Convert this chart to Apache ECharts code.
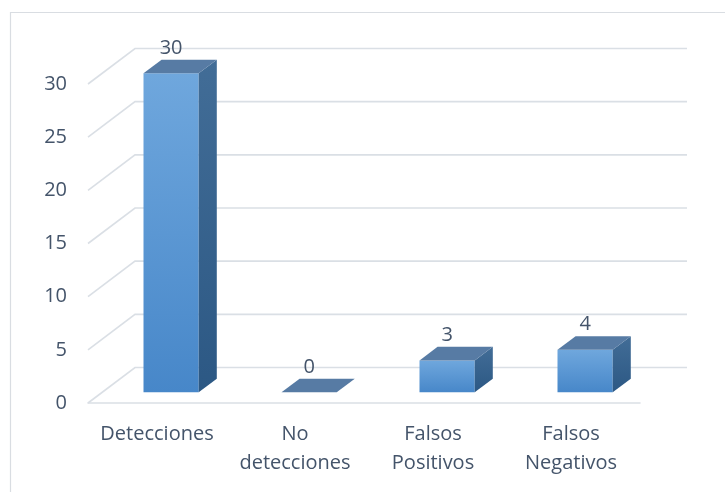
<!DOCTYPE html>
<html>
<head>
<meta charset="utf-8">
<script src="https://cdn.jsdelivr.net/npm/echarts@6/dist/echarts.min.js"></script>
<style>
  html, body { margin: 0; padding: 0; background: #ffffff; }
  #chart { width: 725px; height: 492px; }
</style>
</head>
<body>
<div id="chart"></div>
<script>
// Categories and counts shown by the column chart
const categories = ['Detecciones', 'No\ndetecciones', 'Falsos\nPositivos', 'Falsos\nNegativos'];
const counts = [30, 0, 3, 4];
// Value-axis ticks (also used for the back-wall grid lines)
const yTicks = [0, 5, 10, 15, 20, 25, 30];

const TEXT = '#44546A';
const GRID = '#DADFE5';
const FONT = '"Open Sans", sans-serif';
const FONT_SIZE = 20;

// Pseudo-3D depth of the floor (pixels to the back wall)
const DEPTH_X = 47, DEPTH_Y = -35.5;
// Bars sit between these fractions of the floor depth
const BAR_FRONT = 0.3, BAR_DEPTH = 0.385;
const BAR_WIDTH_RATIO = 0.4;

const chart = echarts.init(document.getElementById('chart'));

function renderWall(params, api) {
  const cs = params.coordSys;
  const y = api.coord([0, api.value(1)])[1];
  return {
    type: 'polyline',
    shape: { points: [
      [cs.x, y],
      [cs.x + DEPTH_X, y + DEPTH_Y],
      [cs.x + cs.width + DEPTH_X, y + DEPTH_Y]
    ] },
    style: { stroke: GRID, lineWidth: 1.6, fill: null },
    silent: true
  };
}

function renderBar(params, api) {
  const idx = api.value(0);
  const val = api.value(1);
  const top = api.coord([idx, val]);
  const base = api.coord([idx, 0]);
  const band = api.size([1, 0])[0];
  const w = band * BAR_WIDTH_RATIO;
  const ox = BAR_FRONT * DEPTH_X, oy = BAR_FRONT * DEPTH_Y;
  const dx = BAR_DEPTH * DEPTH_X, dy = BAR_DEPTH * DEPTH_Y;
  const x0 = top[0] - w / 2 + ox, x1 = top[0] + w / 2 + ox;
  const yt = top[1] + oy, yb = base[1] + oy;

  const children = [];
  if (yb - yt > 0.5) {
    children.push({
      type: 'rect',
      shape: { x: x0, y: yt, width: x1 - x0, height: yb - yt },
      style: {
        fill: new echarts.graphic.LinearGradient(0, 0, 0, 1, [
          { offset: 0, color: '#6FA7DD' },
          { offset: 1, color: '#4787C9' }
        ])
      }
    });
    children.push({
      type: 'polygon',
      shape: { points: [[x1, yt], [x1 + dx, yt + dy], [x1 + dx, yb + dy], [x1, yb]] },
      style: {
        fill: new echarts.graphic.LinearGradient(0, 0, 0, 1, [
          { offset: 0, color: '#426D97' },
          { offset: 1, color: '#2C5884' }
        ])
      }
    });
  }
  children.push({
    type: 'polygon',
    shape: { points: [[x0, yt], [x1, yt], [x1 + dx, yt + dy], [x0 + dx, yt + dy]] },
    style: { fill: '#577BA4' }
  });
  children.push({
    type: 'text',
    style: {
      text: String(val),
      x: (x0 + x1) / 2,
      y: yt + dy - 11.5,
      align: 'center',
      verticalAlign: 'middle',
      fill: TEXT,
      fontSize: FONT_SIZE,
      fontFamily: FONT
    }
  });
  return { type: 'group', children: children };
}

chart.setOption({
  animation: false,
  backgroundColor: '#ffffff',
  graphic: [{
    type: 'rect',
    shape: { x: 10.5, y: 12.5, width: 760, height: 520 },
    style: { stroke: '#D9DDE2', lineWidth: 1.2, fill: null },
    silent: true,
    z: -10
  }],
  grid: { left: 88, right: 85, top: 84, bottom: 89, containLabel: false },
  xAxis: {
    type: 'category',
    data: categories,
    axisLine: { show: true, lineStyle: { color: GRID, width: 1.6 } },
    axisTick: { show: false },
    axisLabel: {
      color: TEXT, fontSize: FONT_SIZE, fontFamily: FONT,
      lineHeight: 29, margin: 17, interval: 0
    },
    splitLine: { show: false }
  },
  yAxis: {
    type: 'value',
    min: 0, max: 30, interval: 5,
    axisLine: { show: false },
    axisTick: { show: false },
    splitLine: { show: false },
    axisLabel: { color: TEXT, fontSize: FONT_SIZE, fontFamily: FONT, margin: 21 }
  },
  series: [
    {
      type: 'custom',
      name: 'walls',
      renderItem: renderWall,
      data: yTicks.map(v => [0, v]),
      encode: { x: 0, y: 1 },
      silent: true,
      z: 1
    },
    {
      type: 'custom',
      name: 'counts',
      renderItem: renderBar,
      data: counts.map((v, i) => [i, v]),
      encode: { x: 0, y: 1 },
      z: 5
    }
  ]
});
</script>
</body>
</html>
